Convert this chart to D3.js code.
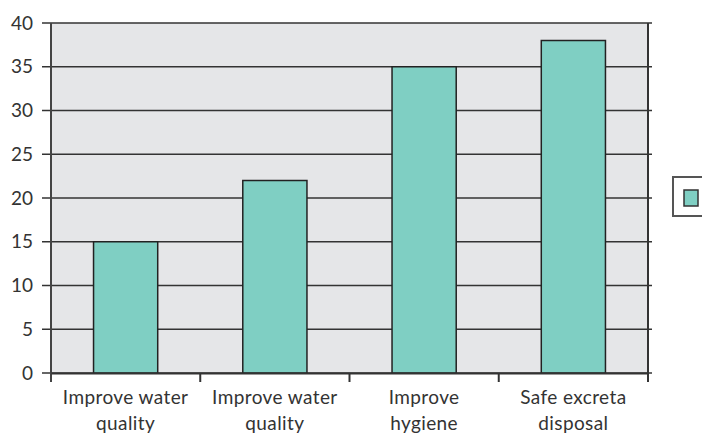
<!DOCTYPE html>
<html>
<head>
<meta charset="utf-8">
<script src="https://cdn.jsdelivr.net/npm/d3@7"></script>
<style>
  html, body { margin: 0; padding: 0; background: #fff; }
  svg { display: block; font-family: "Lato", "Open Sans", sans-serif; }
</style>
</head>
<body>
<svg id="chart"></svg>
<script>
// -- DATA --
const categories = [
  ["Improve water", "quality"],
  ["Improve water", "quality"],
  ["Improve", "hygiene"],
  ["Safe excreta", "disposal"]
];
const values = [15, 22, 35, 38];
const yTicks = [0, 5, 10, 15, 20, 25, 30, 35, 40];

// -- LAYOUT --
const width = 702;
const height = 434;
const plot = { left: 51, top: 23, right: 648, bottom: 373 };

const svg = d3.select("#chart").attr("width", width).attr("height", height);

// Scales
const x = d3
  .scaleBand()
  .domain(d3.range(categories.length))
  .range([plot.left, plot.right])
  .paddingInner(0.57)
  .paddingOuter(0.285);
const band = d3
  .scaleBand()
  .domain(d3.range(categories.length))
  .range([plot.left, plot.right]);
const y = d3.scaleLinear().domain([0, 40]).range([plot.bottom, plot.top]);

// plot background
svg
  .append("rect")
  .attr("x", plot.left)
  .attr("y", plot.top)
  .attr("width", plot.right - plot.left)
  .attr("height", plot.bottom - plot.top)
  .style("fill", "#e5e6e8");

// gridlines with tick stubs on both sides
svg
  .append("g")
  .selectAll("line")
  .data(yTicks)
  .enter()
  .append("line")
  .attr("x1", plot.left - 9)
  .attr("x2", plot.right + 4)
  .attr("y1", (d) => y(d))
  .attr("y2", (d) => y(d))
  .style("stroke", "#333")
  .style("stroke-width", 1.6);

// bars
svg
  .append("g")
  .selectAll("rect")
  .data(values)
  .enter()
  .append("rect")
  .attr("x", (d, i) => x(i))
  .attr("y", (d) => y(d))
  .attr("width", x.bandwidth())
  .attr("height", (d) => y(0) - y(d))
  .style("fill", "#7fcfc3")
  .style("stroke", "#222")
  .style("stroke-width", 1.5);

// plot frame (left, right)
svg
  .append("line")
  .attr("x1", plot.left).attr("x2", plot.left)
  .attr("y1", plot.top).attr("y2", plot.bottom + 9)
  .style("stroke", "#444").style("stroke-width", 2);
svg
  .append("line")
  .attr("x1", plot.right).attr("x2", plot.right)
  .attr("y1", plot.top).attr("y2", plot.bottom + 9)
  .style("stroke", "#333").style("stroke-width", 2);

// y axis labels
const yAxis = d3
  .axisLeft(y)
  .tickValues(yTicks)
  .tickSize(0)
  .tickPadding(18);
svg
  .append("g")
  .attr("transform", `translate(${plot.left},0)`)
  .call(yAxis)
  .call((g) => g.select(".domain").remove())
  .selectAll("text")
  .style("font-family", "Lato, sans-serif")
  .style("font-size", "19px")
  .style("fill", "#333");

// x axis: ticks between categories + labels
const xAxis = d3
  .axisBottom(band)
  .tickSize(0)
  .tickFormat(() => "");
svg
  .append("g")
  .attr("transform", `translate(0,${plot.bottom})`)
  .call(xAxis)
  .call((g) => g.select(".domain").style("stroke", "#333").style("stroke-width", 2));

svg
  .append("g")
  .selectAll("line")
  .data(d3.range(1, categories.length))
  .enter()
  .append("line")
  .attr("x1", (d) => band(d))
  .attr("x2", (d) => band(d))
  .attr("y1", plot.bottom)
  .attr("y2", plot.bottom + 9)
  .style("stroke", "#333")
  .style("stroke-width", 2);

const labels = svg
  .append("g")
  .selectAll("text")
  .data(categories)
  .enter()
  .append("text")
  .attr("x", (d, i) => band(i) + band.bandwidth() / 2)
  .attr("y", 404)
  .attr("text-anchor", "middle")
  .style("font-size", "19px")
  .style("letter-spacing", "0.4px")
  .style("fill", "#333");
labels
  .selectAll("tspan")
  .data((d) => d)
  .enter()
  .append("tspan")
  .attr("x", function () {
    return d3.select(this.parentNode).attr("x");
  })
  .attr("dy", (d, i) => (i === 0 ? 0 : 26))
  .text((d) => d);

// legend (cut at right edge)
svg
  .append("rect")
  .attr("x", 673)
  .attr("y", 177)
  .attr("width", 60)
  .attr("height", 39)
  .style("fill", "#fff")
  .style("stroke", "#555")
  .style("stroke-width", 2);
svg
  .append("rect")
  .attr("x", 684)
  .attr("y", 190)
  .attr("width", 14)
  .attr("height", 16)
  .style("fill", "#7fcfc3")
  .style("stroke", "#333")
  .style("stroke-width", 1.5);
</script>
</body>
</html>
